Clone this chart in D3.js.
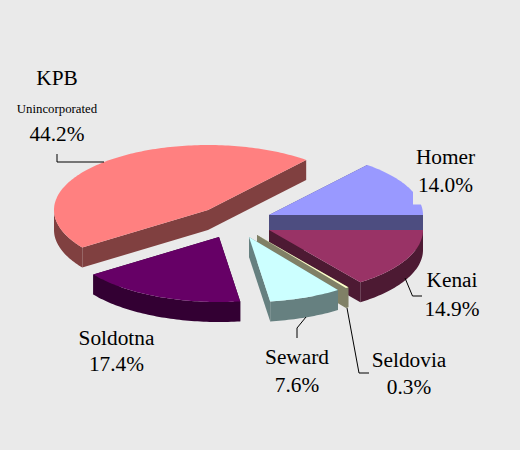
<!DOCTYPE html>
<html>
<head>
<meta charset="utf-8">
<script src="https://cdn.jsdelivr.net/npm/d3@7"></script>
<style>
html,body{margin:0;padding:0;background:#eaeaea;overflow:hidden}
svg{display:block}
text{font-family:"Liberation Serif",serif;fill:#000;text-anchor:middle}
</style>
</head>
<body>
<svg id="c" width="520" height="450"></svg>
<script>
// Data
const categories = ["Homer","Kenai","Seldovia","Seward","Soldotna","KPB"];
const sliceValues = [14.0,14.9,0.3,7.6,17.4,45.8];
const percentLabels = ["14.0%","14.9%","0.3%","7.6%","17.4%","44.2%"];
const topColors = ["#9999ff","#993366","#ffffcc","#ccffff","#660066","#ff8080"];
const sideColors = ["#4d4d80","#4d1a33","#808066","#668080","#330033","#804040"];

// Layout
const W=520,H=450,rx=154,ry=65,depth=20;
const apexes=[[269,215],[269,230],[257,235],[249,237],[219,237],[208,210]];
const sx=d3.scaleLinear().domain([-1,1]).range([-rx,rx]);
const sy=d3.scaleLinear().domain([-1,1]).range([ry,-ry]);
const startAngle=(90-50.4)*Math.PI/180;
const pie=d3.pie().sort(null).value(d=>d).startAngle(startAngle).endAngle(startAngle+2*Math.PI);
const arcs=pie(sliceValues);
const svg=d3.select("#c");
svg.append("rect").attr("width",W).attr("height",H).attr("fill","#eaeaea");
const line=d3.line();

function pt(a,apex,dz){return [apex[0]+sx(Math.sin(a)),apex[1]+sy(Math.cos(a))+dz];}
function arcPts(a0,a1,apex,dz){
  const n=Math.max(2,Math.ceil(Math.abs(a1-a0)/0.02));
  return d3.range(n+1).map(i=>pt(a0+(a1-a0)*i/n,apex,dz));
}
arcs.forEach((d,i)=>{
  const apex=apexes[i],g=svg.append("g").attr("class","slice");
  const base=[apex[0],apex[1]+depth];
  const poly=p=>g.append("path").attr("d",line(p)+"Z").attr("fill",sideColors[i]);
  // radial walls
  [d.startAngle,d.endAngle].forEach(a=>poly([apex,pt(a,apex,0),pt(a,apex,depth),base]));
  // outer wall: the part of the rim on the viewer's side
  const lo=Math.max(d.startAngle,Math.PI/2), hi=Math.min(d.endAngle,3*Math.PI/2);
  if(hi>lo) poly(arcPts(lo,hi,apex,0).concat(arcPts(hi,lo,apex,depth)));
  // top
  g.append("path").attr("d",line([apex].concat(arcPts(d.startAngle,d.endAngle,apex,0)))+"Z").attr("fill",topColors[i]);
});

// leader lines
const leaders=[[[57,154],[57,162],[104,162]],[[405,278],[412.5,296],[422,296]],[[306,317],[297,328],[297,338]],[[347,308],[359,373],[369,373]]];
leaders.forEach(p=>svg.append("path").attr("d",line(p)).attr("fill","none").attr("stroke","#000").attr("stroke-width",1));

// label background that clips the Homer slice corner
svg.append("rect").attr("x",413).attr("y",168).attr("width",66).attr("height",36.5).attr("fill","#eaeaea");

function label(x,y,s,size){svg.append("text").attr("x",x).attr("y",y).attr("font-size",size).text(s);}
const big=21.33, small=12.8;
const pos={Homer:[445.5,164,192],Kenai:[452,287,316],Seldovia:[409,367,394],Seward:[297,364,392],Soldotna:[116.5,345,371]};
categories.forEach((c,i)=>{
  if(c==="KPB")return;
  const p=pos[c];
  label(p[0],p[1],c,big);
  label(p[0],p[2],percentLabels[i],big);
});
label(57,85,"KPB",big);
label(57,113,"Unincorporated",small);
label(57,141,percentLabels[5],big);
</script>
</body>
</html>
